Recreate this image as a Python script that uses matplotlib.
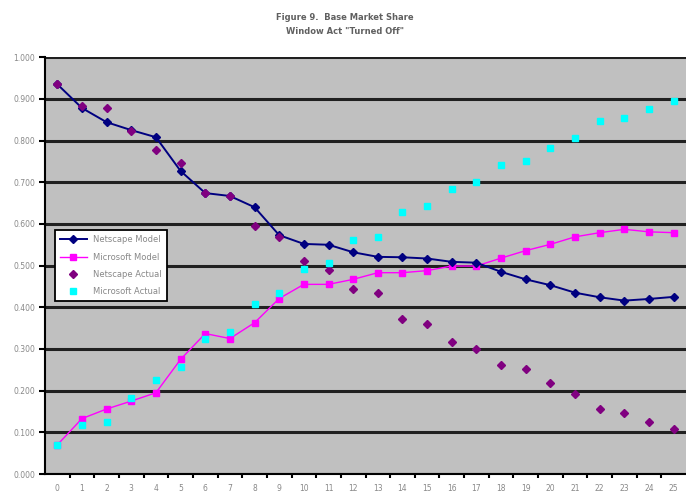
import matplotlib
matplotlib.use('Agg')
import matplotlib.pyplot as plt

plt.rcParams['font.family'] = ['DejaVu Sans']

# === data ===
periods = list(range(26))
netscape_model = [0.935, 0.878, 0.844, 0.825, 0.808, 0.727, 0.674, 0.667, 0.640, 0.573,
                  0.552, 0.550, 0.532, 0.521, 0.520, 0.517, 0.509, 0.507, 0.485, 0.467,
                  0.453, 0.435, 0.424, 0.416, 0.420, 0.425]
microsoft_model = [0.070, 0.133, 0.156, 0.175, 0.195, 0.275, 0.337, 0.325, 0.363, 0.421,
                   0.455, 0.455, 0.467, 0.483, 0.483, 0.488, 0.499, 0.499, 0.518, 0.536,
                   0.551, 0.569, 0.579, 0.587, 0.581, 0.579]
netscape_actual = [0.935, 0.882, 0.878, 0.823, 0.777, 0.746, 0.674, 0.667, 0.595, 0.568,
                   0.512, 0.489, 0.443, 0.435, 0.373, 0.360, 0.317, 0.300, 0.261, 0.252,
                   0.219, 0.192, 0.155, 0.146, 0.125, 0.108]
microsoft_actual = [0.070, 0.118, 0.124, 0.183, 0.225, 0.257, 0.325, 0.341, 0.408, 0.435,
                    0.492, 0.507, 0.561, 0.569, 0.628, 0.644, 0.683, 0.701, 0.741, 0.751,
                    0.781, 0.807, 0.847, 0.855, 0.875, 0.895]
yticks = [i / 10 for i in range(11)]

fig = plt.figure(figsize=(6.86, 4.93), dpi=100)
ax = fig.add_axes([0.0656, 0.0385, 0.9344, 0.8455])
ax.set_facecolor('#c0c0c0')

ax.plot(periods, netscape_model, color='#000080', lw=1.4, marker='D', ms=4.5, label='Netscape Model', zorder=4)
ax.plot(periods, microsoft_model, color='#ff00ff', lw=1.0, marker='s', ms=5, label='Microsoft Model', zorder=3)
ax.plot(periods, netscape_actual, ls='none', color='#800080', marker='D', ms=4.5, label='Netscape Actual', zorder=5)
ax.plot(periods, microsoft_actual, ls='none', color='#00ffff', marker='s', ms=5, label='Microsoft Actual', zorder=5)

ax.set_xlim(-0.5, 25.5)
ax.set_ylim(0, 1.0)
ax.set_yticks(yticks)
ax.set_yticklabels([f'{v:.3f}' for v in yticks])
ax.set_xticks([p + 0.5 for p in periods[:-1]], minor=False)
ax.set_xticklabels([])
ax.set_xticks(periods, minor=True)
ax.set_xticklabels([str(p) for p in periods], minor=True)
ax.tick_params(axis='x', which='major', length=3, width=1.5, color='black', direction='out')
ax.tick_params(axis='x', which='minor', length=0, labelsize=5.5, labelcolor='#888888', pad=7)
ax.tick_params(axis='y', length=4, width=1.5, color='black', labelsize=5.5, labelcolor='#888888', pad=3)
ax.grid(axis='y', color='#202020', lw=2.2)
ax.set_axisbelow(True)
for s in ['top', 'right']:
    ax.spines[s].set_visible(False)
for s in ['left', 'bottom']:
    ax.spines[s].set_linewidth(1.5)

leg = ax.legend(loc='upper left', bbox_to_anchor=(0.009, 0.595), fontsize=6, frameon=True,
                fancybox=False, edgecolor='black', facecolor='white', framealpha=1,
                handlelength=3.2, labelspacing=1.0, borderpad=0.6, markerscale=0.85)
leg.get_frame().set_linewidth(1.3)
for t in leg.get_texts():
    t.set_color('#888888')

fig.text(0.503, 0.965, 'Figure 9.  Base Market Share', ha='center', va='center',
         fontsize=6, color='#606060', fontweight='bold')
fig.text(0.503, 0.937, 'Window Act "Turned Off"', ha='center', va='center',
         fontsize=6, color='#606060', fontweight='bold')

plt.savefig('out.png', dpi=100, facecolor='white')
plt.close()
